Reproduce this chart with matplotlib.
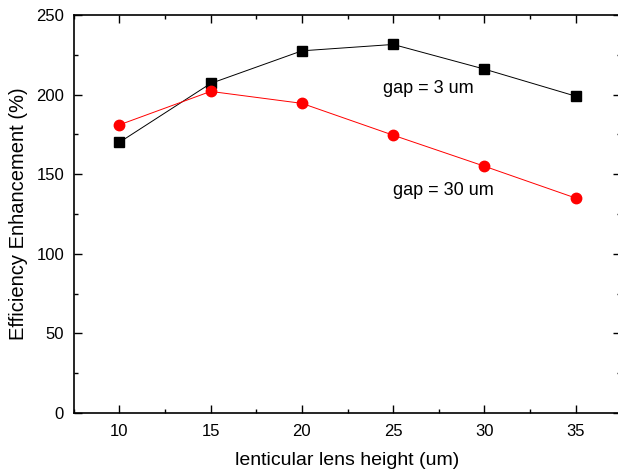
import matplotlib
matplotlib.use("Agg")
import matplotlib.pyplot as plt
from matplotlib.ticker import MultipleLocator

plt.rcParams['font.family'] = ['Liberation Sans', 'DejaVu Sans']

heights = [10, 15, 20, 25, 30, 35]
gap3 = [170, 207, 227.5, 231.5, 216, 199]
gap30 = [181, 202, 194.5, 174.5, 155, 135]

fig = plt.figure(figsize=(6.18, 4.73), dpi=100)
ax = fig.add_axes([0.1193, 0.1268, 0.8862, 0.8415])

ax.plot(heights, gap3, color='black', lw=0.7, marker='s', ms=7, mfc='black', mec='black')
ax.plot(heights, gap30, color='red', lw=0.7, marker='o', ms=7.5, mfc='red', mec='red')

ax.text(26.95, 204, 'gap = 3 um', fontsize=13, ha='center', va='center')
ax.text(27.75, 140, 'gap = 30 um', fontsize=13, ha='center', va='center')

ax.set_xlim(7.5, 37.5)
ax.set_ylim(0, 250)
ax.xaxis.set_major_locator(MultipleLocator(5))
ax.xaxis.set_minor_locator(MultipleLocator(2.5))
ax.yaxis.set_major_locator(MultipleLocator(50))
ax.yaxis.set_minor_locator(MultipleLocator(25))
ax.tick_params(which='both', direction='in', top=True, right=True, labelsize=12, width=1)
ax.tick_params(which='major', length=6)
ax.tick_params(which='minor', length=3)
ax.tick_params(axis='x', pad=8)
ax.tick_params(axis='y', pad=7)
for s in ax.spines.values():
    s.set_linewidth(1.2)

ax.set_xlabel('lenticular lens height (um)', fontsize=14, labelpad=9)
ax.set_ylabel('Efficiency Enhancement (%)', fontsize=14.5, labelpad=6)

fig.savefig('out.png', dpi=100)
